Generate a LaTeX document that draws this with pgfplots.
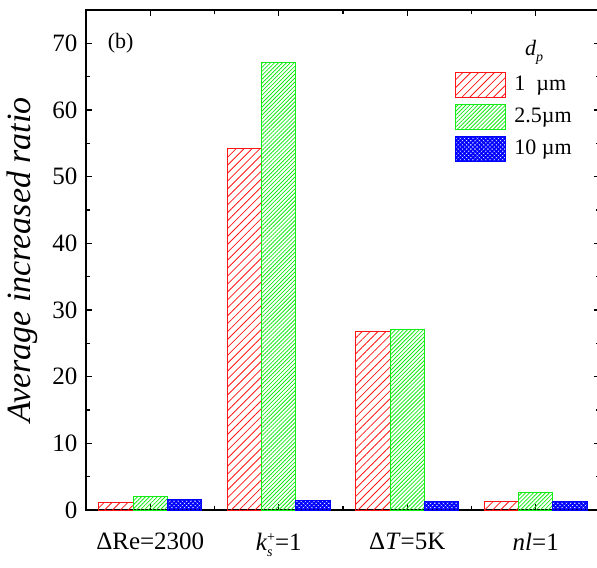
\documentclass[border=0pt]{standalone}
\usepackage{fontspec}
\setmainfont{LiberationSerif}[Extension=.ttf, UprightFont=*-Regular, ItalicFont=*-Italic, BoldFont=*-Bold, BoldItalicFont=*-BoldItalic]
\usepackage{pgfplots}
\pgfplotsset{compat=1.18}
\usetikzlibrary{patterns.meta}
\definecolor{cred}{RGB}{255,20,20}
\definecolor{cgreen}{RGB}{20,235,20}
\definecolor{cblue}{RGB}{0,0,255}
\begin{document}
\fontsize{12.5}{15}\selectfont
\begin{tikzpicture}
\begin{axis}[
  at={(0,0)}, anchor=south west,
  scale only axis, width=257pt, height=250pt,
  xmin=0.5, xmax=4.5, ymin=0, ymax=75,
  xtick={1,2,3,4},
  xticklabels={ΔRe=2300,{\textit{k}\rlap{\raisebox{-0.6ex}{\scriptsize\textit{s}}}\raisebox{0.75ex}{\scriptsize +}=1},{Δ\textit{T}=5K},{\textit{nl}=1}},
  minor xtick={1.5,2.5,3.5},
  ytick={0,10,...,70}, minor ytick={5,15,...,75},
  tick align=inside, major tick length=3pt, minor tick length=1.8pt,
  /pgf/number format/assume math mode=true,
  ticklabel style={font=\fontsize{12.5}{15}\selectfont},
  xticklabel style={yshift=-7pt},
  ylabel={\textit{Average increased ratio}},
  ylabel style={at={(axis description cs:-0.1245,0.5)}, anchor=center, font=\fontsize{17}{19}\selectfont},
  axis line style={line width=0.7pt},
  every tick/.style={black, line width=0.6pt},
  legend image code/.code={\draw[#1] (0pt,-6.25pt) rectangle (25pt,6.25pt);},
  legend style={at={(rel axis cs:0.718,0.876)}, anchor=north west, draw=none, fill=none,
    inner sep=0pt, row sep=3pt, column sep=3pt, font=\fontsize{11}{13}\selectfont,
    nodes={inner sep=1pt}},
  legend cell align=left,
]
\addplot[ybar, bar width=0.268, bar shift=-0.268, draw=cred, line width=0.5pt,
  pattern={Lines[angle=45,distance=2.8pt,line width=0.4pt]}, pattern color=cred]
  coordinates {(1,1.2) (2,54.2) (3,26.8) (4,1.3)};
\addlegendentry{1\enspace µm}
\addplot[ybar, bar width=0.268, bar shift=0, draw=cgreen, line width=0.5pt,
  pattern={Lines[angle=45,distance=1.4pt,line width=0.4pt]}, pattern color=cgreen]
  coordinates {(1,2.05) (2,67.2) (3,27.1) (4,2.6)};
\addlegendentry{2.5µm}
\addplot[ybar, bar width=0.268, bar shift=0.268, draw=cblue, line width=0.5pt,
  pattern={Hatch[angle=45,distance=1.5pt,line width=0.9pt]}, pattern color=cblue]
  coordinates {(1,1.6) (2,1.4) (3,1.25) (4,1.25)};
\addlegendentry{10 µm}
\node[font=\fontsize{11}{13}\selectfont] at (axis cs:0.77,70) {(b)};
\node[font=\fontsize{11}{13}\selectfont] at (rel axis cs:0.872,0.916) {\textit{d}\raisebox{-0.6ex}{\scriptsize\textit{p}}};
\end{axis}
\pgfresetboundingbox
\path (-43pt,-28.5pt) rectangle (255.5pt,255pt);
\end{tikzpicture}
\end{document}
